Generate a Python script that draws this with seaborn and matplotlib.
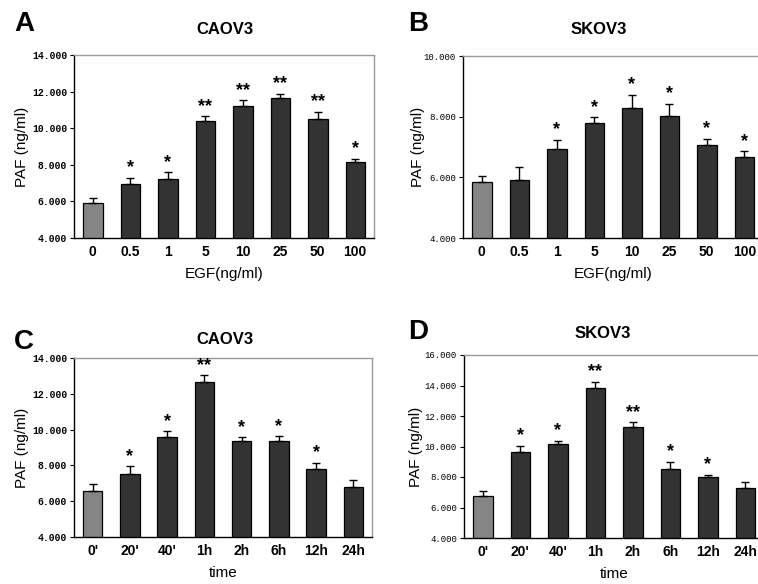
import numpy as np
import pandas as pd
import seaborn as sns
import matplotlib.pyplot as plt

## data
egf_doses = ['0', '0.5', '1', '5', '10', '25', '50', '100']
times = ["0'", "20'", "40'", '1h', '2h', '6h', '12h', '24h']

caov3_egf = [5.90, 6.94, 7.21, 10.39, 11.23, 11.63, 10.50, 8.14]
caov3_egf_err = [0.29, 0.34, 0.38, 0.27, 0.29, 0.25, 0.40, 0.18]
caov3_egf_sig = ['', '*', '*', '**', '**', '**', '**', '*']

skov3_egf = [5.85, 5.91, 6.93, 7.80, 8.29, 8.01, 7.08, 6.66]
skov3_egf_err = [0.20, 0.42, 0.30, 0.18, 0.44, 0.42, 0.19, 0.20]
skov3_egf_sig = ['', '', '*', '*', '*', '*', '*', '*']

caov3_time = [6.57, 7.51, 9.56, 12.64, 9.35, 9.35, 7.79, 6.79]
caov3_time_err = [0.39, 0.43, 0.35, 0.39, 0.22, 0.27, 0.37, 0.39]
caov3_time_sig = ['', '*', '*', '**', '*', '*', '*', '']

skov3_time = [6.78, 9.61, 10.18, 13.83, 11.29, 8.51, 7.99, 7.26]
skov3_time_err = [0.29, 0.43, 0.21, 0.42, 0.31, 0.50, 0.16, 0.42]
skov3_time_sig = ['', '*', '*', '**', '**', '*', '*', '']

sns.set_style('white')
plt.rcParams['font.family'] = ['Liberation Sans', 'DejaVu Sans']
plt.rcParams['text.color'] = 'black'
plt.rcParams['axes.labelcolor'] = 'black'
plt.rcParams['xtick.color'] = 'black'
plt.rcParams['ytick.color'] = 'black'

W, H = 758, 584
fig = plt.figure(figsize=(W / 100, H / 100), dpi=100)


def px_axes(left, top, right, bottom):
    return fig.add_axes([left / W, 1 - bottom / H, (right - left) / W, (bottom - top) / H])


def panel(ax, cats, vals, errs, sig, ymax, xlabel, bold_ticks, ylab_x):
    df = pd.DataFrame({'cat': cats, 'val': vals, 'err': errs})
    colors = ['#858585'] + ['#333333'] * (len(cats) - 1)
    sns.barplot(data=df, x='cat', y='val', hue='cat', palette=colors, legend=False,
                width=0.52, edgecolor='black', linewidth=0.9, ax=ax)
    pos = np.arange(len(cats))
    ax.errorbar(pos, df['val'], yerr=[np.zeros(len(cats)), df['err']], fmt='none',
                ecolor='black', elinewidth=1.0, capsize=3, capthick=1.0)
    for p, v, e, s in zip(pos, df['val'], df['err'], sig):
        if s:
            ax.text(p, v + e + (ymax - 4) * 0.008, s, ha='center', va='bottom',
                    fontsize=13, fontweight='bold')
    ax.set_ylim(4, ymax)
    ax.set_xlim(-0.5, len(cats) - 0.5)
    yt = np.arange(4, ymax + 0.1, 2)
    ax.set_yticks(yt)
    ax.set_yticklabels([f'{v:.3f}' for v in yt], family='Liberation Mono',
                       fontsize=7 if bold_ticks else 6.5,
                       fontweight='bold' if bold_ticks else 'normal')
    ax.set_xticks(pos)
    ax.set_xticklabels(cats, fontsize=10, fontweight='bold')
    ax.set_xticks(np.arange(0.5, len(cats) - 0.5, 1), minor=True)
    ax.tick_params(axis='x', which='major', length=0, pad=5)
    ax.tick_params(axis='x', which='minor', length=3, direction='in', width=0.8)
    ax.tick_params(axis='y', which='major', length=3, direction='out', width=0.8, pad=2, left=True)
    for side in ['left', 'bottom']:
        ax.spines[side].set_color('black')
        ax.spines[side].set_linewidth(1.0)
    for side in ['top', 'right']:
        ax.spines[side].set_color('#9a9a9a')
        ax.spines[side].set_linewidth(1.0)
    ax.set_xlabel(xlabel, fontsize=11, labelpad=6)
    ax.set_ylabel('PAF (ng/ml)', fontsize=11, va='center')
    ax.yaxis.set_label_coords(ylab_x / W, 0.5, transform=fig.transFigure)
    bb = ax.get_position()
    ax.yaxis.label.set_position((ylab_x / W, bb.y0 + bb.height / 2))


axA = px_axes(74, 55, 374, 238)
panel(axA, egf_doses, caov3_egf, caov3_egf_err, caov3_egf_sig, 14, 'EGF(ng/ml)', True, 22)
axB = px_axes(463, 56, 763, 238)
panel(axB, egf_doses, skov3_egf, skov3_egf_err, skov3_egf_sig, 10, 'EGF(ng/ml)', False, 418)
axC = px_axes(74, 358, 372, 537)
panel(axC, times, caov3_time, caov3_time_err, caov3_time_sig, 14, 'time', True, 22)
axD = px_axes(464, 355, 764, 538)
panel(axD, times, skov3_time, skov3_time_err, skov3_time_sig, 16, 'time', False, 416)


def ftext(x, y, s, **kw):
    fig.text(x / W, 1 - y / H, s, ha='center', va='center', **kw)


ftext(24, 24, 'A', fontsize=20, fontweight='bold')
ftext(418, 24, 'B', fontsize=20, fontweight='bold')
ftext(24, 342, 'C', fontsize=20, fontweight='bold')
ftext(418, 332, 'D', fontsize=20, fontweight='bold')
ftext(225, 30, 'CAOV3', fontsize=12, fontweight='bold')
ftext(599, 30, 'SKOV3', fontsize=12, fontweight='bold')
ftext(225, 340, 'CAOV3', fontsize=12, fontweight='bold')
ftext(603, 333, 'SKOV3', fontsize=12, fontweight='bold')

fig.savefig('out.png', dpi=100)
